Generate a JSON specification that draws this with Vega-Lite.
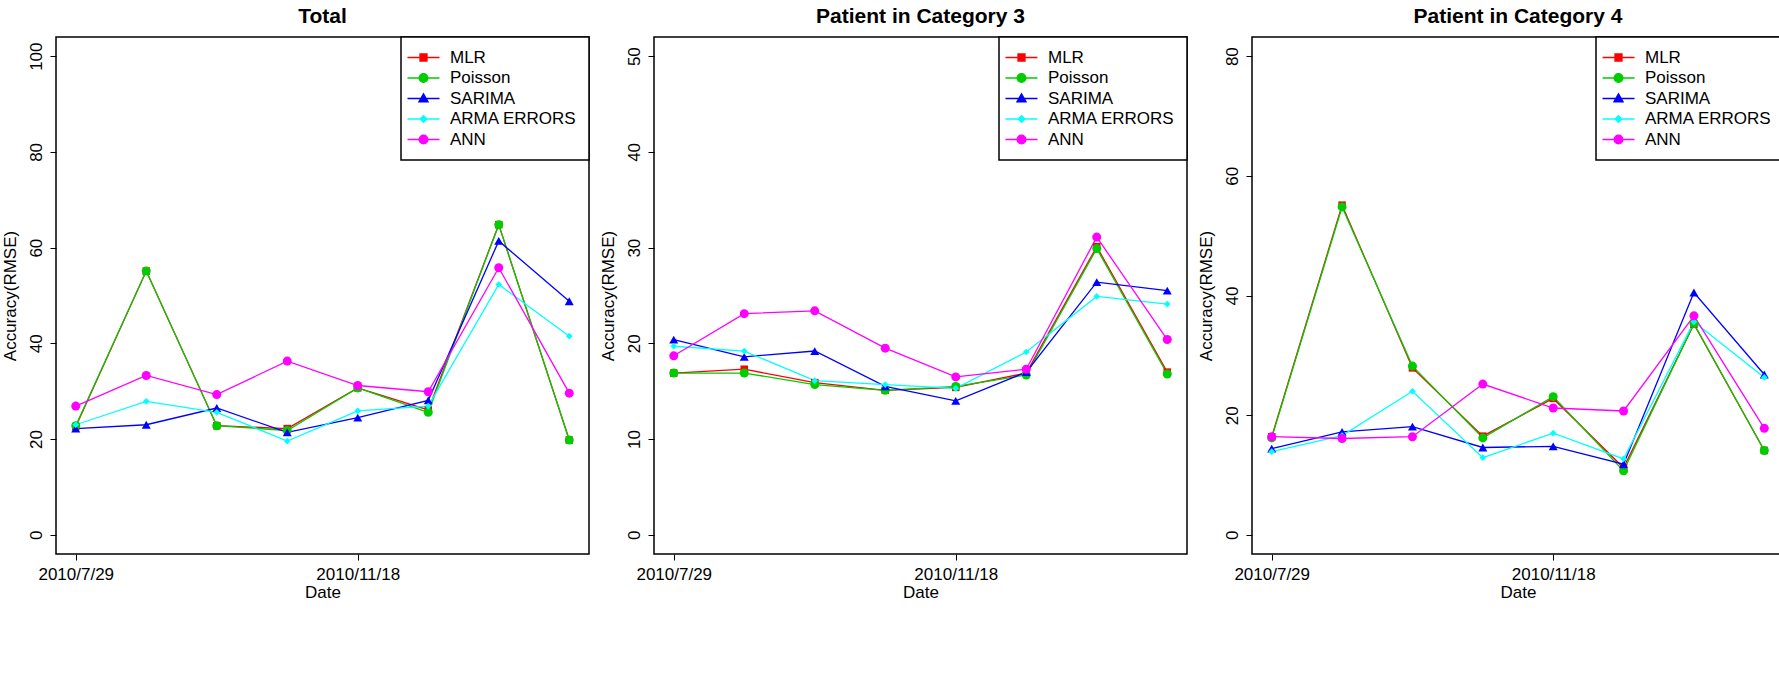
{
  "$schema": "https://vega.github.io/schema/vega-lite/v6.json",
  "padding": {"left": 0, "top": 5, "right": 0, "bottom": 0},
  "spacing": 7,
  "config": {
    "font": "Liberation Sans",
    "view": {"stroke": "black", "strokeWidth": 1.5},
    "axis": {"domain": false, "grid": false, "tickColor": "black", "tickSize": 6, "tickWidth": 1, "labelColor": "black", "labelFontSize": 17, "titleFontSize": 17, "titleFontWeight": "normal", "titleColor": "black"},
    "axisX": {"labelPadding": 6, "titlePadding": 2},
    "axisY": {"labelPadding": 5, "titlePadding": 8, "labelAngle": -90},
    "title": {"fontSize": 21, "fontWeight": "bold", "color": "black", "offset": 9},
    "legend": {
      "orient": "top-right", "offset": 0, "padding": 12, "strokeColor": "black", "strokeWidth": 1.5, "fillColor": "white",
      "title": null, "labelFontSize": 17, "labelColor": "black", "labelLimit": 300,
      "symbolSize": 64, "symbolOffset": 2, "labelOffset": 18, "rowPadding": 2.5, "symbolStrokeWidth": 1.3, "symbolOpacity": 1,
      "cornerRadius": 0
    }
  },
  "datasets": {
    "total": [
      {"model": "MLR", "date": "2010-07-29", "rmse": 22.6}, {"model": "MLR", "date": "2010-08-26", "rmse": 55.1}, {"model": "MLR", "date": "2010-09-23", "rmse": 22.8}, {"model": "MLR", "date": "2010-10-21", "rmse": 22.2}, {"model": "MLR", "date": "2010-11-18", "rmse": 30.7}, {"model": "MLR", "date": "2010-12-16", "rmse": 26.1}, {"model": "MLR", "date": "2011-01-13", "rmse": 64.8}, {"model": "MLR", "date": "2011-02-10", "rmse": 19.8},
      {"model": "Poisson", "date": "2010-07-29", "rmse": 22.8}, {"model": "Poisson", "date": "2010-08-26", "rmse": 55.1}, {"model": "Poisson", "date": "2010-09-23", "rmse": 22.8}, {"model": "Poisson", "date": "2010-10-21", "rmse": 21.8}, {"model": "Poisson", "date": "2010-11-18", "rmse": 30.7}, {"model": "Poisson", "date": "2010-12-16", "rmse": 25.6}, {"model": "Poisson", "date": "2011-01-13", "rmse": 64.8}, {"model": "Poisson", "date": "2011-02-10", "rmse": 19.8},
      {"model": "SARIMA", "date": "2010-07-29", "rmse": 22.2}, {"model": "SARIMA", "date": "2010-08-26", "rmse": 23.0}, {"model": "SARIMA", "date": "2010-09-23", "rmse": 26.5}, {"model": "SARIMA", "date": "2010-10-21", "rmse": 21.4}, {"model": "SARIMA", "date": "2010-11-18", "rmse": 24.5}, {"model": "SARIMA", "date": "2010-12-16", "rmse": 28.1}, {"model": "SARIMA", "date": "2011-01-13", "rmse": 61.4}, {"model": "SARIMA", "date": "2011-02-10", "rmse": 48.8},
      {"model": "ARMA ERRORS", "date": "2010-07-29", "rmse": 23.0}, {"model": "ARMA ERRORS", "date": "2010-08-26", "rmse": 27.9}, {"model": "ARMA ERRORS", "date": "2010-09-23", "rmse": 25.6}, {"model": "ARMA ERRORS", "date": "2010-10-21", "rmse": 19.6}, {"model": "ARMA ERRORS", "date": "2010-11-18", "rmse": 25.9}, {"model": "ARMA ERRORS", "date": "2010-12-16", "rmse": 26.9}, {"model": "ARMA ERRORS", "date": "2011-01-13", "rmse": 52.3}, {"model": "ARMA ERRORS", "date": "2011-02-10", "rmse": 41.5},
      {"model": "ANN", "date": "2010-07-29", "rmse": 26.9}, {"model": "ANN", "date": "2010-08-26", "rmse": 33.3}, {"model": "ANN", "date": "2010-09-23", "rmse": 29.3}, {"model": "ANN", "date": "2010-10-21", "rmse": 36.3}, {"model": "ANN", "date": "2010-11-18", "rmse": 31.2}, {"model": "ANN", "date": "2010-12-16", "rmse": 29.9}, {"model": "ANN", "date": "2011-01-13", "rmse": 55.8}, {"model": "ANN", "date": "2011-02-10", "rmse": 29.6}
    ],
    "cat3": [
      {"model": "MLR", "date": "2010-07-29", "rmse": 16.9}, {"model": "MLR", "date": "2010-08-26", "rmse": 17.3}, {"model": "MLR", "date": "2010-09-23", "rmse": 15.9}, {"model": "MLR", "date": "2010-10-21", "rmse": 15.1}, {"model": "MLR", "date": "2010-11-18", "rmse": 15.4}, {"model": "MLR", "date": "2010-12-16", "rmse": 16.9}, {"model": "MLR", "date": "2011-01-13", "rmse": 30.1}, {"model": "MLR", "date": "2011-02-10", "rmse": 17.0},
      {"model": "Poisson", "date": "2010-07-29", "rmse": 16.9}, {"model": "Poisson", "date": "2010-08-26", "rmse": 16.9}, {"model": "Poisson", "date": "2010-09-23", "rmse": 15.7}, {"model": "Poisson", "date": "2010-10-21", "rmse": 15.1}, {"model": "Poisson", "date": "2010-11-18", "rmse": 15.5}, {"model": "Poisson", "date": "2010-12-16", "rmse": 16.7}, {"model": "Poisson", "date": "2011-01-13", "rmse": 29.9}, {"model": "Poisson", "date": "2011-02-10", "rmse": 16.8},
      {"model": "SARIMA", "date": "2010-07-29", "rmse": 20.4}, {"model": "SARIMA", "date": "2010-08-26", "rmse": 18.6}, {"model": "SARIMA", "date": "2010-09-23", "rmse": 19.2}, {"model": "SARIMA", "date": "2010-10-21", "rmse": 15.5}, {"model": "SARIMA", "date": "2010-11-18", "rmse": 14.0}, {"model": "SARIMA", "date": "2010-12-16", "rmse": 17.0}, {"model": "SARIMA", "date": "2011-01-13", "rmse": 26.4}, {"model": "SARIMA", "date": "2011-02-10", "rmse": 25.5},
      {"model": "ARMA ERRORS", "date": "2010-07-29", "rmse": 19.7}, {"model": "ARMA ERRORS", "date": "2010-08-26", "rmse": 19.2}, {"model": "ARMA ERRORS", "date": "2010-09-23", "rmse": 16.1}, {"model": "ARMA ERRORS", "date": "2010-10-21", "rmse": 15.7}, {"model": "ARMA ERRORS", "date": "2010-11-18", "rmse": 15.3}, {"model": "ARMA ERRORS", "date": "2010-12-16", "rmse": 19.1}, {"model": "ARMA ERRORS", "date": "2011-01-13", "rmse": 24.9}, {"model": "ARMA ERRORS", "date": "2011-02-10", "rmse": 24.1},
      {"model": "ANN", "date": "2010-07-29", "rmse": 18.7}, {"model": "ANN", "date": "2010-08-26", "rmse": 23.1}, {"model": "ANN", "date": "2010-09-23", "rmse": 23.4}, {"model": "ANN", "date": "2010-10-21", "rmse": 19.5}, {"model": "ANN", "date": "2010-11-18", "rmse": 16.5}, {"model": "ANN", "date": "2010-12-16", "rmse": 17.3}, {"model": "ANN", "date": "2011-01-13", "rmse": 31.1}, {"model": "ANN", "date": "2011-02-10", "rmse": 20.4}
    ],
    "cat4": [
      {"model": "MLR", "date": "2010-07-29", "rmse": 16.4}, {"model": "MLR", "date": "2010-08-26", "rmse": 55.1}, {"model": "MLR", "date": "2010-09-23", "rmse": 27.9}, {"model": "MLR", "date": "2010-10-21", "rmse": 16.5}, {"model": "MLR", "date": "2010-11-18", "rmse": 22.8}, {"model": "MLR", "date": "2010-12-16", "rmse": 11.2}, {"model": "MLR", "date": "2011-01-13", "rmse": 35.2}, {"model": "MLR", "date": "2011-02-10", "rmse": 14.1},
      {"model": "Poisson", "date": "2010-07-29", "rmse": 16.2}, {"model": "Poisson", "date": "2010-08-26", "rmse": 54.8}, {"model": "Poisson", "date": "2010-09-23", "rmse": 28.2}, {"model": "Poisson", "date": "2010-10-21", "rmse": 16.2}, {"model": "Poisson", "date": "2010-11-18", "rmse": 23.1}, {"model": "Poisson", "date": "2010-12-16", "rmse": 10.7}, {"model": "Poisson", "date": "2011-01-13", "rmse": 35.3}, {"model": "Poisson", "date": "2011-02-10", "rmse": 14.1},
      {"model": "SARIMA", "date": "2010-07-29", "rmse": 14.4}, {"model": "SARIMA", "date": "2010-08-26", "rmse": 17.2}, {"model": "SARIMA", "date": "2010-09-23", "rmse": 18.1}, {"model": "SARIMA", "date": "2010-10-21", "rmse": 14.6}, {"model": "SARIMA", "date": "2010-11-18", "rmse": 14.8}, {"model": "SARIMA", "date": "2010-12-16", "rmse": 11.8}, {"model": "SARIMA", "date": "2011-01-13", "rmse": 40.5}, {"model": "SARIMA", "date": "2011-02-10", "rmse": 26.8},
      {"model": "ARMA ERRORS", "date": "2010-07-29", "rmse": 13.9}, {"model": "ARMA ERRORS", "date": "2010-08-26", "rmse": 16.6}, {"model": "ARMA ERRORS", "date": "2010-09-23", "rmse": 24.0}, {"model": "ARMA ERRORS", "date": "2010-10-21", "rmse": 12.9}, {"model": "ARMA ERRORS", "date": "2010-11-18", "rmse": 17.0}, {"model": "ARMA ERRORS", "date": "2010-12-16", "rmse": 12.7}, {"model": "ARMA ERRORS", "date": "2011-01-13", "rmse": 35.6}, {"model": "ARMA ERRORS", "date": "2011-02-10", "rmse": 26.3},
      {"model": "ANN", "date": "2010-07-29", "rmse": 16.4}, {"model": "ANN", "date": "2010-08-26", "rmse": 16.1}, {"model": "ANN", "date": "2010-09-23", "rmse": 16.4}, {"model": "ANN", "date": "2010-10-21", "rmse": 25.2}, {"model": "ANN", "date": "2010-11-18", "rmse": 21.2}, {"model": "ANN", "date": "2010-12-16", "rmse": 20.7}, {"model": "ANN", "date": "2011-01-13", "rmse": 36.6}, {"model": "ANN", "date": "2011-02-10", "rmse": 17.8}
    ]
  },
  "resolve": {"scale": {"color": "independent", "x": "independent", "y": "independent"}, "legend": {"color": "independent"}},
  "hconcat": [
    {
      "title": "Total",
      "width": 533, "height": 517,
      "data": {"name": "total"},
      "encoding": {
        "x": {"field": "date", "type": "temporal", "title": "Date",
          "scale": {"type": "utc", "nice": false, "domain": [{"year": 2010, "month": 7, "date": 21, "hours": 3, "minutes": 50, "utc": true}, {"year": 2011, "month": 2, "date": 17, "hours": 20, "minutes": 10, "utc": true}]},
          "axis": {"values": [{"year": 2010, "month": 7, "date": 29, "utc": true}, {"year": 2010, "month": 11, "date": 18, "utc": true}], "format": "%Y/%-m/%-d"}},
        "y": {"field": "rmse", "type": "quantitative", "title": "Accuracy(RMSE)", "scale": {"domain": [-4, 104], "nice": false, "zero": false}, "axis": {"values": [0, 20, 40, 60, 80, 100]}},
        "color": {"field": "model", "type": "nominal", "sort": null,
          "scale": {"domain": ["MLR", "Poisson", "SARIMA", "ARMA ERRORS", "ANN"], "range": ["#FF0000", "#00CD00", "#0000FF", "#00FFFF", "#FF00FF"]},
          "legend": {"encode": {"symbols": {"update": {
            "shape": {"signal": "datum.value === 'MLR' ? 'M-4,0H4M-0.875,-0.875H0.875V0.875H-0.875Z' : datum.value === 'SARIMA' ? 'M-4,0H4M0,-1.15L1.15,0.85L-1.15,0.85Z' : datum.value === 'ARMA ERRORS' ? 'M-4,0H4M0,-0.85L0.85,0L0,0.85L-0.85,0Z' : 'M-4,0H4M-1.1,0A1.1,1.1,0,1,0,1.1,0A1.1,1.1,0,1,0,-1.1,0Z'"},
            "strokeWidth": {"value": 1.3}, "opacity": {"value": 1}, "size": {"value": 64}}}}}}
      },
      "layer": [
        {"mark": {"type": "line", "strokeWidth": 1.3}},
        {"mark": {"type": "point", "filled": true, "opacity": 1},
          "encoding": {
            "shape": {"condition": [{"test": "datum.model === 'MLR'", "value": "square"}, {"test": "datum.model === 'SARIMA'", "value": "triangle-up"}, {"test": "datum.model === 'ARMA ERRORS'", "value": "diamond"}], "value": "circle"},
            "size": {"condition": [{"test": "datum.model === 'MLR'", "value": 56}, {"test": "datum.model === 'ARMA ERRORS'", "value": 45}], "value": 81}
          }}
      ]
    },
    {
      "title": "Patient in Category 3",
      "width": 533, "height": 517,
      "data": {"name": "cat3"},
      "encoding": {
        "x": {"field": "date", "type": "temporal", "title": "Date",
          "scale": {"type": "utc", "nice": false, "domain": [{"year": 2010, "month": 7, "date": 21, "hours": 3, "minutes": 50, "utc": true}, {"year": 2011, "month": 2, "date": 17, "hours": 20, "minutes": 10, "utc": true}]},
          "axis": {"values": [{"year": 2010, "month": 7, "date": 29, "utc": true}, {"year": 2010, "month": 11, "date": 18, "utc": true}], "format": "%Y/%-m/%-d"}},
        "y": {"field": "rmse", "type": "quantitative", "title": "Accuracy(RMSE)", "scale": {"domain": [-2, 52], "nice": false, "zero": false}, "axis": {"values": [0, 10, 20, 30, 40, 50]}},
        "color": {"field": "model", "type": "nominal", "sort": null,
          "scale": {"domain": ["MLR", "Poisson", "SARIMA", "ARMA ERRORS", "ANN"], "range": ["#FF0000", "#00CD00", "#0000FF", "#00FFFF", "#FF00FF"]},
          "legend": {"encode": {"symbols": {"update": {
            "shape": {"signal": "datum.value === 'MLR' ? 'M-4,0H4M-0.875,-0.875H0.875V0.875H-0.875Z' : datum.value === 'SARIMA' ? 'M-4,0H4M0,-1.15L1.15,0.85L-1.15,0.85Z' : datum.value === 'ARMA ERRORS' ? 'M-4,0H4M0,-0.85L0.85,0L0,0.85L-0.85,0Z' : 'M-4,0H4M-1.1,0A1.1,1.1,0,1,0,1.1,0A1.1,1.1,0,1,0,-1.1,0Z'"},
            "strokeWidth": {"value": 1.3}, "opacity": {"value": 1}, "size": {"value": 64}}}}}}
      },
      "layer": [
        {"mark": {"type": "line", "strokeWidth": 1.3}},
        {"mark": {"type": "point", "filled": true, "opacity": 1},
          "encoding": {
            "shape": {"condition": [{"test": "datum.model === 'MLR'", "value": "square"}, {"test": "datum.model === 'SARIMA'", "value": "triangle-up"}, {"test": "datum.model === 'ARMA ERRORS'", "value": "diamond"}], "value": "circle"},
            "size": {"condition": [{"test": "datum.model === 'MLR'", "value": 56}, {"test": "datum.model === 'ARMA ERRORS'", "value": 45}], "value": 81}
          }}
      ]
    },
    {
      "title": "Patient in Category 4",
      "width": 532, "height": 517,
      "data": {"name": "cat4"},
      "encoding": {
        "x": {"field": "date", "type": "temporal", "title": "Date",
          "scale": {"type": "utc", "nice": false, "domain": [{"year": 2010, "month": 7, "date": 21, "hours": 3, "minutes": 50, "utc": true}, {"year": 2011, "month": 2, "date": 17, "hours": 20, "minutes": 10, "utc": true}]},
          "axis": {"values": [{"year": 2010, "month": 7, "date": 29, "utc": true}, {"year": 2010, "month": 11, "date": 18, "utc": true}], "format": "%Y/%-m/%-d"}},
        "y": {"field": "rmse", "type": "quantitative", "title": "Accuracy(RMSE)", "scale": {"domain": [-3.2, 83.2], "nice": false, "zero": false}, "axis": {"values": [0, 20, 40, 60, 80]}},
        "color": {"field": "model", "type": "nominal", "sort": null,
          "scale": {"domain": ["MLR", "Poisson", "SARIMA", "ARMA ERRORS", "ANN"], "range": ["#FF0000", "#00CD00", "#0000FF", "#00FFFF", "#FF00FF"]},
          "legend": {"encode": {"symbols": {"update": {
            "shape": {"signal": "datum.value === 'MLR' ? 'M-4,0H4M-0.875,-0.875H0.875V0.875H-0.875Z' : datum.value === 'SARIMA' ? 'M-4,0H4M0,-1.15L1.15,0.85L-1.15,0.85Z' : datum.value === 'ARMA ERRORS' ? 'M-4,0H4M0,-0.85L0.85,0L0,0.85L-0.85,0Z' : 'M-4,0H4M-1.1,0A1.1,1.1,0,1,0,1.1,0A1.1,1.1,0,1,0,-1.1,0Z'"},
            "strokeWidth": {"value": 1.3}, "opacity": {"value": 1}, "size": {"value": 64}}}}}}
      },
      "layer": [
        {"mark": {"type": "line", "strokeWidth": 1.3}},
        {"mark": {"type": "point", "filled": true, "opacity": 1},
          "encoding": {
            "shape": {"condition": [{"test": "datum.model === 'MLR'", "value": "square"}, {"test": "datum.model === 'SARIMA'", "value": "triangle-up"}, {"test": "datum.model === 'ARMA ERRORS'", "value": "diamond"}], "value": "circle"},
            "size": {"condition": [{"test": "datum.model === 'MLR'", "value": 56}, {"test": "datum.model === 'ARMA ERRORS'", "value": 45}], "value": 81}
          }}
      ]
    }
  ]
}
